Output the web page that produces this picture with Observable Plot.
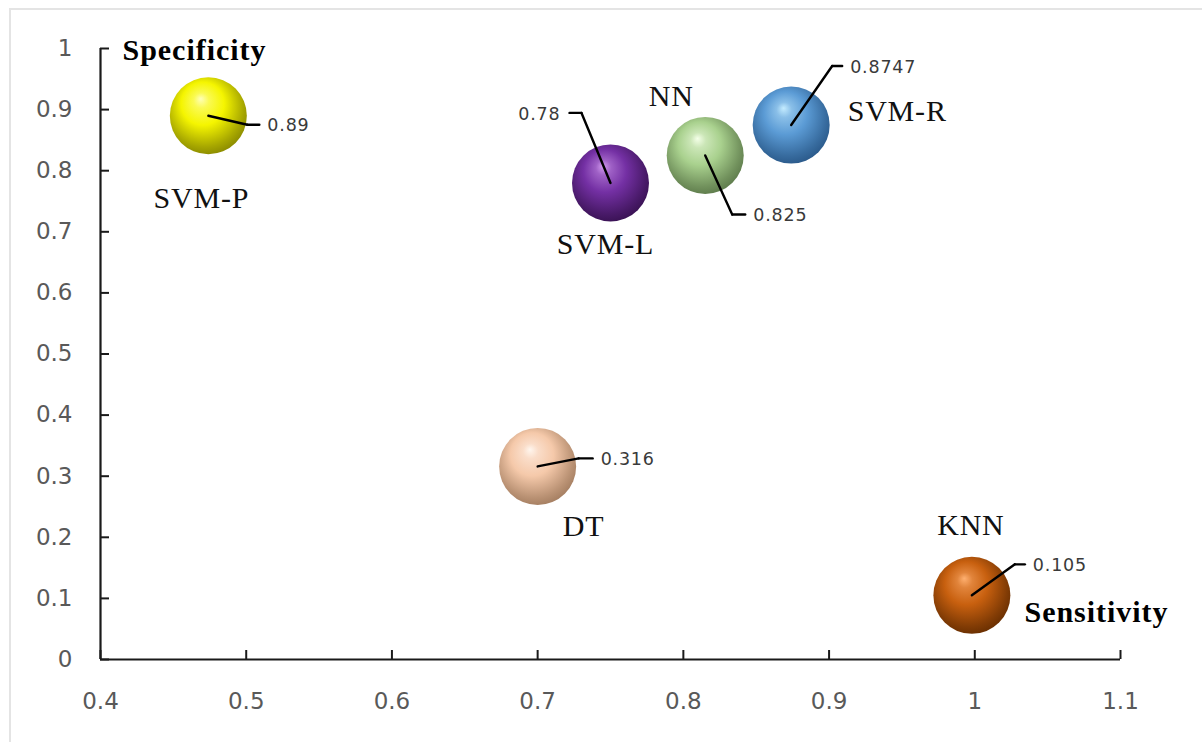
<!DOCTYPE html>
<html>
<head>
<meta charset="utf-8">
<script src="https://cdn.jsdelivr.net/npm/d3@7"></script>
<script src="https://cdn.jsdelivr.net/npm/@observablehq/plot@0.6"></script>
<style>
  html, body { margin: 0; padding: 0; background: #fff; }
  #wrap { position: relative; width: 1202px; height: 742px; overflow: hidden; }
  #frame { position: absolute; left: 9px; top: 8px; width: 1400px; height: 900px;
           border-top: 2px solid #e4e4e4; border-left: 2px solid #e4e4e4; }
  #chart { position: absolute; left: 0; top: 0; }
  g[aria-description="value label"] text { letter-spacing: 0.8px; }
  g[aria-description="model label"] text { letter-spacing: 0.8px; }
</style>
</head>
<body>
<div id="wrap"><div id="frame"></div><div id="chart"></div></div>
<script>
// Classifier performance: sensitivity (x) against specificity (y)
const models      = ["SVM-P", "SVM-L", "NN", "SVM-R", "DT", "KNN"];
const sensitivity = [0.474, 0.75, 0.815, 0.874, 0.70, 0.998];
const specificity = [0.89, 0.78, 0.825, 0.8747, 0.316, 0.105];
const xTicks = [0.4, 0.5, 0.6, 0.7, 0.8, 0.9, 1, 1.1];
const yTicks = [0, 0.1, 0.2, 0.3, 0.4, 0.5, 0.6, 0.7, 0.8, 0.9, 1];

// sphere shading: highlight, body and shadow tone per model
const lightColors = ["#ffffb8", "#d49cf0", "#f4ffe8", "#c4ecff", "#fff6ee", "#ffb070"];
const baseColors  = ["#f5f500", "#7430a4", "#a9d18e", "#5b9bd5", "#f5c9aa", "#c8600f"];
const darkColors  = ["#858500", "#36104f", "#5a7748", "#285686", "#a07a5d", "#642c00"];

// label placement around each sphere (px): leader elbow, tail length, name offset
const leader = [
  {ex: 39, ey: 9,   tail: 12},
  {ex: -29, ey: -70, tail: -12},
  {ex: 27, ey: 59,  tail: 13},
  {ex: 41, ey: -59, tail: 10},
  {ex: 41, ey: -8,  tail: 14},
  {ex: 43, ey: -31, tail: 10}
];
const nameOffset = [
  {dx: -7, dy: 83}, {dx: -5, dy: 61}, {dx: -34, dy: -59},
  {dx: 106, dy: -14}, {dx: 46, dy: 60}, {dx: -1, dy: -70}
];

const table = models.map((m, i) => ({
  model: m, sens: sensitivity[i], spec: specificity[i], ball: `url(#ball-${i})`, i
}));

const fmtTick = d => String(+d.toFixed(2));
const segment = {draw(ctx, l) { ctx.moveTo(0, 0); ctx.lineTo(0, -l); }};

const labelMarks = table.flatMap(d => {
  const L = leader[d.i], N = nameOffset[d.i];
  const diag = Math.hypot(L.ex, L.ey);
  const rot = Math.atan2(L.ex, -L.ey) * 180 / Math.PI;
  return [
    Plot.vector([d], {x: "sens", y: "spec", length: diag, rotate: rot, anchor: "start",
      shape: segment, stroke: "#000", strokeWidth: 2.4}),
    Plot.vector([d], {x: "sens", y: "spec", dx: L.ex, dy: L.ey, length: Math.abs(L.tail),
      rotate: L.tail > 0 ? 90 : -90, anchor: "start", shape: segment, stroke: "#000", strokeWidth: 2.4}),
    Plot.text([d], {x: "sens", y: "spec", text: d => String(d.spec),
      dx: L.ex + L.tail + (L.tail > 0 ? 8 : -9), dy: L.ey + 1,
      textAnchor: L.tail > 0 ? "start" : "end", ariaDescription: "value label",
      fontFamily: "DejaVu Sans", fontSize: 17.5, fill: "#3a3a3a"}),
    Plot.text([d], {x: "sens", y: "spec", text: "model", dx: N.dx, dy: N.dy,
      ariaDescription: "model label", fontFamily: "Liberation Serif", fontSize: 30, fill: "#111"})
  ];
});

const chart = Plot.plot({
  width: 1202,
  height: 742,
  marginLeft: 100,
  marginRight: 82,
  marginTop: 48,
  marginBottom: 83,
  style: {background: "transparent", fontFamily: "DejaVu Sans"},
  x: {domain: [0.4, 1.1]},
  y: {domain: [0, 1]},
  color: {type: "identity"},
  marks: [
    Plot.axisY({ticks: yTicks, tickFormat: fmtTick, tickSize: -9, tickPadding: 37,
      fontSize: 23, fill: "#595959", stroke: "#1a1a1a", strokeWidth: 2, label: null}),
    Plot.axisX({ticks: xTicks, tickFormat: fmtTick, tickSize: -9, tickPadding: 42,
      fontSize: 23, fill: "#595959", stroke: "#1a1a1a", strokeWidth: 2, label: null}),
    Plot.ruleX([0.4], {stroke: "#1a1a1a", strokeWidth: 2.2}),
    Plot.ruleY([0], {stroke: "#1a1a1a", strokeWidth: 2.2}),
    Plot.dot(table, {x: "sens", y: "spec", r: 38.5, fill: "ball", stroke: null}),
    ...labelMarks,
    Plot.text(["Specificity"], {frameAnchor: "top-left", dx: 22, dy: -10, textAnchor: "start",
      ariaDescription: "axis title", fontFamily: "Liberation Serif", fontWeight: "bold", fontSize: 30, fill: "#000"}),
    Plot.text(["Sensitivity"], {frameAnchor: "bottom-right", dx: 47, dy: -38, textAnchor: "end",
      ariaDescription: "axis title", fontFamily: "Liberation Serif", fontWeight: "bold", fontSize: 30, fill: "#000"})
  ]
});

// the bold axis titles are set a little wider than the font's natural spacing
d3.select(chart).selectAll('g[aria-description="axis title"] text').attr("textLength", 143);

// radial gradients giving each dot a lit-sphere look
const defs = d3.select(chart).insert("defs", ":first-child");
models.forEach((m, i) => {
  const g = defs.append("radialGradient").attr("id", `ball-${i}`)
    .attr("cx", 0.46).attr("cy", 0.42).attr("r", 0.62)
    .attr("fx", 0.4).attr("fy", 0.28);
  const stops = [
    [0, lightColors[i]],
    [0.16, d3.interpolateRgb(lightColors[i], baseColors[i])(0.55)],
    [0.45, baseColors[i]],
    [0.82, d3.interpolateRgb(baseColors[i], darkColors[i])(0.7)],
    [1, darkColors[i]]
  ];
  stops.forEach(([o, c]) => g.append("stop").attr("offset", o).attr("stop-color", c));
});

document.getElementById("chart").appendChild(chart);
</script>
</body>
</html>
